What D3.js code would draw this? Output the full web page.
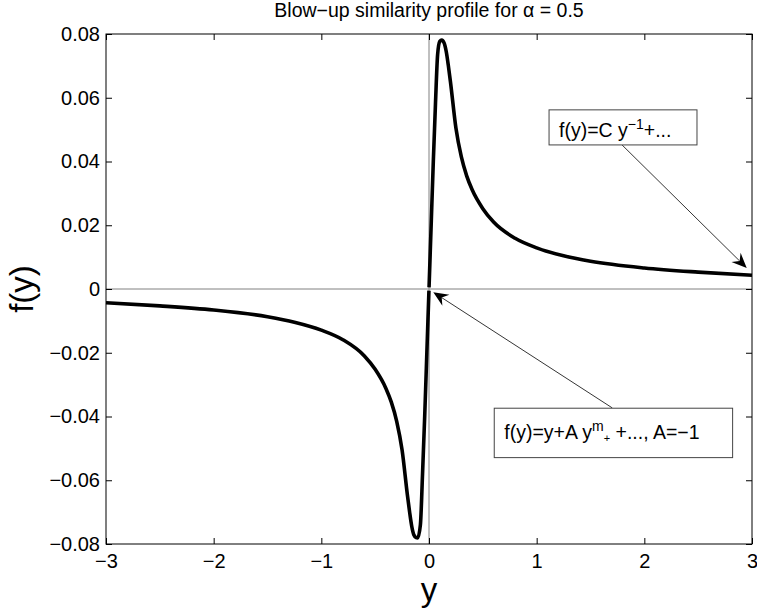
<!DOCTYPE html>
<html><head><meta charset="utf-8">
<script src="https://cdn.jsdelivr.net/npm/d3@7"></script>
<style>
body{margin:0;background:#fff}
text{font-family:"Liberation Sans",Arial,Helvetica,sans-serif;fill:#000}
</style>
</head><body>
<svg id="c" width="757" height="613"></svg>
<script>
// ---- data ----
const yPos = [0.0005, 0.02, 0.04, 0.06, 0.08, 0.10, 0.118, 0.14, 0.16, 0.18, 0.20, 0.25, 0.30, 0.35, 0.40, 0.50, 0.60, 0.80, 1.00, 1.25, 1.50, 2.00, 2.50, 3.00];
const fPos = [0.0005, 0.020, 0.040, 0.058, 0.0735, 0.0777, 0.0781, 0.0772, 0.0745, 0.0700, 0.0648, 0.0505, 0.0415, 0.0355, 0.0312, 0.0252, 0.0210, 0.0159, 0.0129, 0.0104, 0.0087, 0.0066, 0.0053, 0.0043];
const yNeg = [-3.00, -2.50, -2.00, -1.50, -1.25, -1.00, -0.80, -0.60, -0.50, -0.40, -0.35, -0.30, -0.25, -0.20, -0.18, -0.16, -0.14, -0.12, -0.105, -0.08, -0.06, -0.04, -0.02, -0.0005];
const fNeg = [-0.0043, -0.0053, -0.0066, -0.0087, -0.0104, -0.0129, -0.0159, -0.0210, -0.0252, -0.0312, -0.0355, -0.0415, -0.0505, -0.0648, -0.0700, -0.0745, -0.0772, -0.0780, -0.0781, -0.0740, -0.058, -0.040, -0.020, -0.0005];

const xTicks = [-3, -2, -1, 0, 1, 2, 3];
const xTickLabels = ["\u22123", "\u22122", "\u22121", "0", "1", "2", "3"];
const yTicks = [-0.08, -0.06, -0.04, -0.02, 0, 0.02, 0.04, 0.06, 0.08];
const yTickLabels = ["\u22120.08", "\u22120.06", "\u22120.04", "\u22120.02", "0", "0.02", "0.04", "0.06", "0.08"];

const titleText = "Blow\u2212up similarity profile for \u03b1 = 0.5";
const xLabel = "y";
const yLabel = "f(y)";

// annotation boxes / arrows in data coordinates
const ann1Box = [1.115, 2.489, 0.0562, 0.0452];   // x0, x1, yTop, yBottom
const ann1Arrow = [1.793, 0.0452, 2.951, 0.0066]; // tail x,y -> tip x,y
const ann2Box = [0.606, 2.820, -0.0374, -0.0529];
const ann2Arrow = [1.702, -0.0373, 0.040, -0.0010];

// ---- layout ----
const L = 106, R = 752, T = 34, B = 544;
const svg = d3.select("#c");
const x = d3.scaleLinear().domain([-3, 3]).range([L, R]);
const y = d3.scaleLinear().domain([-0.08, 0.08]).range([B, T]);

// zero lines
svg.append("line").attr("x1", L).attr("x2", R).attr("y1", y(0)).attr("y2", y(0))
  .attr("stroke", "#808080").attr("stroke-width", 1);
svg.append("line").attr("x1", x(0)).attr("x2", x(0)).attr("y1", T).attr("y2", B)
  .attr("stroke", "#808080").attr("stroke-width", 1);

// curves
const line = d3.line().x(d => x(d[0])).y(d => y(d[1])).curve(d3.curveMonotoneX);
svg.append("path").datum(yPos.map((v, i) => [v, fPos[i]])).attr("d", line)
  .attr("fill", "none").attr("stroke", "#000").attr("stroke-width", 3.6).attr("stroke-linejoin", "round");
svg.append("path").datum(yNeg.map((v, i) => [v, fNeg[i]])).attr("d", line)
  .attr("fill", "none").attr("stroke", "#000").attr("stroke-width", 3.6).attr("stroke-linejoin", "round");

// axes (ticks inward, all four sides)
const tl = 6;
const g = svg.append("g");
g.append("g").attr("transform", `translate(0,${B})`)
  .call(d3.axisBottom(x).tickValues(xTicks).tickSize(-tl).tickPadding(10).tickFormat((d, i) => xTickLabels[i]));
g.append("g").attr("transform", `translate(0,${T})`)
  .call(d3.axisTop(x).tickValues(xTicks).tickSize(-tl).tickFormat(""));
g.append("g").attr("transform", `translate(${L},0)`)
  .call(d3.axisLeft(y).tickValues(yTicks).tickSize(-tl).tickPadding(6).tickFormat((d, i) => yTickLabels[i]));
g.append("g").attr("transform", `translate(${R},0)`)
  .call(d3.axisRight(y).tickValues(yTicks).tickSize(-tl).tickFormat(""));
g.selectAll(".domain").remove();
g.selectAll(".tick line").attr("stroke", "#000");
g.selectAll(".tick text").attr("font-size", 20).attr("font-family", "Liberation Sans, Arial, sans-serif");
svg.append("rect").attr("x", L).attr("y", T).attr("width", R - L).attr("height", B - T)
  .attr("fill", "none").attr("stroke", "#000").attr("stroke-width", 1);

// title and labels
svg.append("text").attr("x", (L + R) / 2).attr("y", 17).attr("text-anchor", "middle")
  .attr("font-size", 19.5).text(titleText);
svg.append("text").attr("x", (L + R) / 2).attr("y", 601).attr("text-anchor", "middle")
  .attr("font-size", 33).text(xLabel);
svg.append("text").attr("transform", `translate(33,${y(0)}) rotate(-90)`).attr("text-anchor", "middle")
  .attr("font-size", 33).text(yLabel);

// arrows
function arrow(a) {
  const x1 = x(a[0]), y1 = y(a[1]), x2 = x(a[2]), y2 = y(a[3]);
  const ang = Math.atan2(y2 - y1, x2 - x1);
  const len = 15, wid = 6.5, back = 10;
  svg.append("line").attr("x1", x1).attr("y1", y1).attr("x2", x2 - Math.cos(ang) * back).attr("y2", y2 - Math.sin(ang) * back)
    .attr("stroke", "#000").attr("stroke-width", 0.8);
  const c = Math.cos(ang), s = Math.sin(ang);
  const p = (u, v) => [x2 + u * c - v * s, y2 + u * s + v * c];
  const pts = [p(0, 0), p(-len, -wid), p(-back, 0), p(-len, wid)];
  svg.append("path").attr("d", "M" + pts.map(q => q.join(",")).join("L") + "Z").attr("fill", "#000");
}
arrow(ann1Arrow);
arrow(ann2Arrow);

function box(b) {
  svg.append("rect").attr("x", x(b[0])).attr("y", y(b[2])).attr("width", x(b[1]) - x(b[0])).attr("height", y(b[3]) - y(b[2]))
    .attr("fill", "#fff").attr("stroke", "#444").attr("stroke-width", 1);
}
box(ann1Box);
box(ann2Box);

const t1 = svg.append("text").attr("x", x(ann1Box[0]) + 10).attr("y", y(ann1Box[3]) - 8).attr("font-size", 19.5);
t1.append("tspan").text("f(y)=C y");
t1.append("tspan").attr("dy", -8).attr("font-size", 14).text("\u22121");
t1.append("tspan").attr("dy", 8).text("+...");

const t2 = svg.append("text").attr("x", x(ann2Box[0]) + 10).attr("y", y(ann2Box[3]) - 19).attr("font-size", 19.5);
t2.append("tspan").text("f(y)=y+A y");
t2.append("tspan").attr("dy", -8).attr("font-size", 14).text("m");
t2.append("tspan").attr("dy", 11).attr("font-size", 11).text("+");
t2.append("tspan").attr("dy", -3).text(" +..., A=\u22121");
</script>
</body></html>
